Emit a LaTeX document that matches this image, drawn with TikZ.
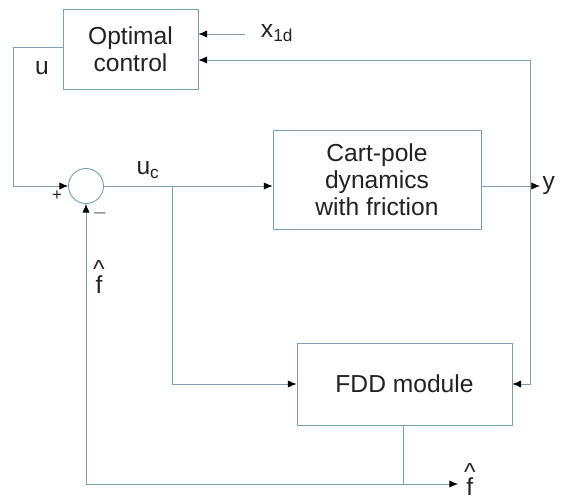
\documentclass[tikz,border=0pt]{standalone}
\usepackage{fontspec}
\setmainfont{Liberation Sans}
\usepackage{tikz}
\usetikzlibrary{arrows.meta, positioning}
\definecolor{wireblue}{HTML}{7AA0B2}
\definecolor{inkgray}{HTML}{222222}

\begin{document}
\begin{tikzpicture}[
  >=Latex, font=\fontsize{21}{25}\selectfont, text=inkgray,
  blk/.style={draw=wireblue, line width=0.8pt, align=center, inner sep=2pt},
  sumnode/.style={circle, draw=wireblue, line width=0.8pt, minimum size=1.05cm, inner sep=0pt},
  wire/.style={draw=wireblue, line width=0.8pt},
  arr/.style={wire, -{Latex[length=2.6mm, width=2.2mm, color=black]}},
  sig/.style={inner sep=1pt},
  hatsig/.style={inner sep=1pt, align=center}
]
\useasboundingbox (0,0) rectangle (17.31,15.06);

% blocks
\node[blk, minimum width=4.05cm, minimum height=2.4cm] (opt)  at (3.915,13.59) {Optimal\\[-2pt]control};
\node[blk, minimum width=6.24cm, minimum height=2.97cm] (cart) at (11.31,9.675) {Cart-pole\\[-2pt]dynamics\\[-2pt]with friction};
\node[blk, minimum width=6.45cm, minimum height=2.46cm] (fdd)  at (12.135,3.54) {FDD module};
\node[sumnode] (sum) at (2.58,9.48) {};

% corner points
\coordinate (xin)   at (7.35,14.04);
\coordinate (uleft) at (0.39,13.65);
\coordinate (split) at (5.16,9.48);
\coordinate (yout)  at (16.2,9.48);
\coordinate (ytap)  at (15.9,9.48);
\coordinate (fbase) at (12.09,0.54);
\coordinate (fend)  at (13.74,0.54);

% labels
\node[sig] (xlbl) at (8.31,14.07) {x\textsubscript{1d}};
\node[sig] (ulbl) at (1.26,13.02) {u};
\node[sig] (uclbl) at (4.44,9.96) {u\textsubscript{c}};
\node[sig, right=1pt of yout] (ylbl) {y};
\node[sig, font=\Large] (plus) at (1.71,9.2) {+};
\node[sig, font=\LARGE, text=gray] (minus) at (3.0,8.6) {--};
\node[hatsig] (fhat1) at (2.97,6.75) {\textasciicircum\\[-12pt]f};
\node[hatsig, right=4pt of fend, yshift=4pt] (fhat2) {\textasciicircum\\[-12pt]f};

% connectors
\draw[arr] (xin) -- (xin -| opt.east);
\draw[arr] (ytap) |- ([yshift=-0.33cm]opt.east);
\draw[arr] (opt.west |- uleft) -- (uleft) |- (sum.west);
\draw[arr] (sum.east) -- (sum -| cart.west);
\draw[arr] (split) |- (fdd.west);
\draw[arr] (cart.east |- yout) -- (yout);
\draw[arr] (ytap) |- (fdd.east);
\draw[wire] (fdd.south -| fbase) -- (fbase);
\draw[arr] (sum |- fbase) -- (fend);
\draw[arr] (sum |- fbase) -- (sum.south);
\end{tikzpicture}
\end{document}
